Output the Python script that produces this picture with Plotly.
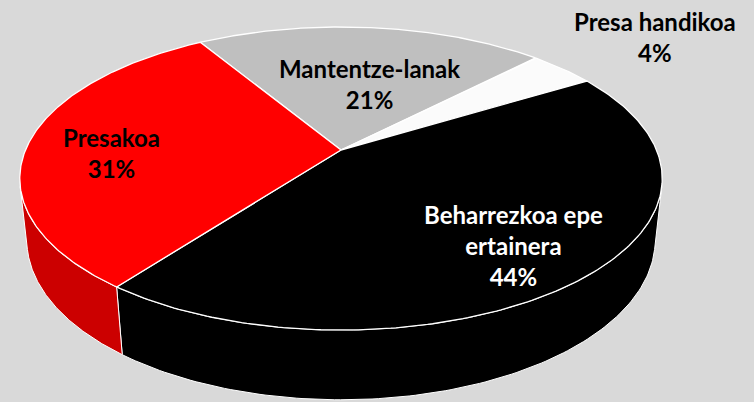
import numpy as np
import plotly.graph_objects as go

# ---- data ----
labels = ["Mantentze-lanak", "Presa handikoa", "Beharrezkoa epe<br>ertainera", "Presakoa"]
values = [21, 4, 44, 31]

# ---- style ----
top_colors = ["#bfbfbf", "#fbfbfb", "#000000", "#ff0000"]
side_colors = ["#a6a6a6", "#e0e0e0", "#000000", "#cc0000"]
text_colors = ["#000000", "#000000", "#ffffff", "#000000"]
label_pos = [(369, 84), (655, 37), (513, 245), (111, 153)]  # label block centres (px)

W, H = 754, 402
BG = "#d9d9d9"

# ---- 3D pie projection parameters ----
cx, cy = 341.0, 150.0
alpha = np.radians(27.6)
s, c = np.sin(alpha), np.cos(alpha)
D = 4.71
f = 1486.0
thick = 0.222
start = np.radians(121.2)


def proj(theta, z=0.0, r=1.0):
    X = r * np.cos(theta)
    Y = r * np.sin(theta)
    Yc = Y * s + z * c
    Zc = D + Y * c - z * s
    return cx + f * X / Zc, cy - f * Yc / Zc


total = float(sum(values))
bounds = [start]
for v in values:
    bounds.append(bounds[-1] - 2 * np.pi * v / total)

# visible side interval (front of the cylinder)
tang = np.arcsin(1.0 / (D * c))
vis_lo, vis_hi = -np.pi + tang, -tang

fig = go.Figure()

# sides
for i, v in enumerate(values):
    a0, a1 = bounds[i], bounds[i + 1]  # a0 > a1
    lo_s, hi_s = a1, a0
    for k in (-1, 0, 1):
        lo = max(lo_s, vis_lo + 2 * np.pi * k)
        hi = min(hi_s, vis_hi + 2 * np.pi * k)
        if hi > lo:
            th = np.linspace(lo, hi, 120)
            xt, yt = proj(th, 0.0)
            xb, yb = proj(th[::-1], -thick)
            xs = np.concatenate([xt, xb, xt[:1]])
            ys = np.concatenate([yt, yb, yt[:1]])
            fig.add_trace(go.Scatter(x=xs, y=ys, mode="lines", fill="toself",
                                     fillcolor=side_colors[i],
                                     line=dict(color="#ffffff", width=1),
                                     hoverinfo="skip", showlegend=False))

# top faces
for i, v in enumerate(values):
    a0, a1 = bounds[i], bounds[i + 1]
    th = np.linspace(a0, a1, 200)
    xa, ya = proj(th, 0.0)
    xs = np.concatenate([[cx], xa, [cx]])
    ys = np.concatenate([[cy], ya, [cy]])
    fig.add_trace(go.Scatter(x=xs, y=ys, mode="lines", fill="toself",
                             fillcolor=top_colors[i],
                             line=dict(color="#ffffff", width=1.3),
                             name=labels[i].replace("<br>", " "),
                             hoverinfo="name", showlegend=False))

for i, v in enumerate(values):
    x, y = label_pos[i]
    fig.add_annotation(x=x, y=y, xref="x", yref="y", showarrow=False,
                       text=f"<b>{labels[i]}<br>{v}%</b>",
                       font=dict(family="Lato", size=24, color=text_colors[i]),
                       align="center", xanchor="center", yanchor="middle")

fig.update_layout(width=W, height=H, margin=dict(l=0, r=0, t=0, b=0),
                  paper_bgcolor=BG, plot_bgcolor=BG,
                  xaxis=dict(range=[0, W], visible=False, fixedrange=True),
                  yaxis=dict(range=[H, 0], visible=False, fixedrange=True))

fig.write_html("out.html", config={"displayModeBar": False},
               post_script="document.body.style.margin='0';document.body.style.overflow='hidden';")
